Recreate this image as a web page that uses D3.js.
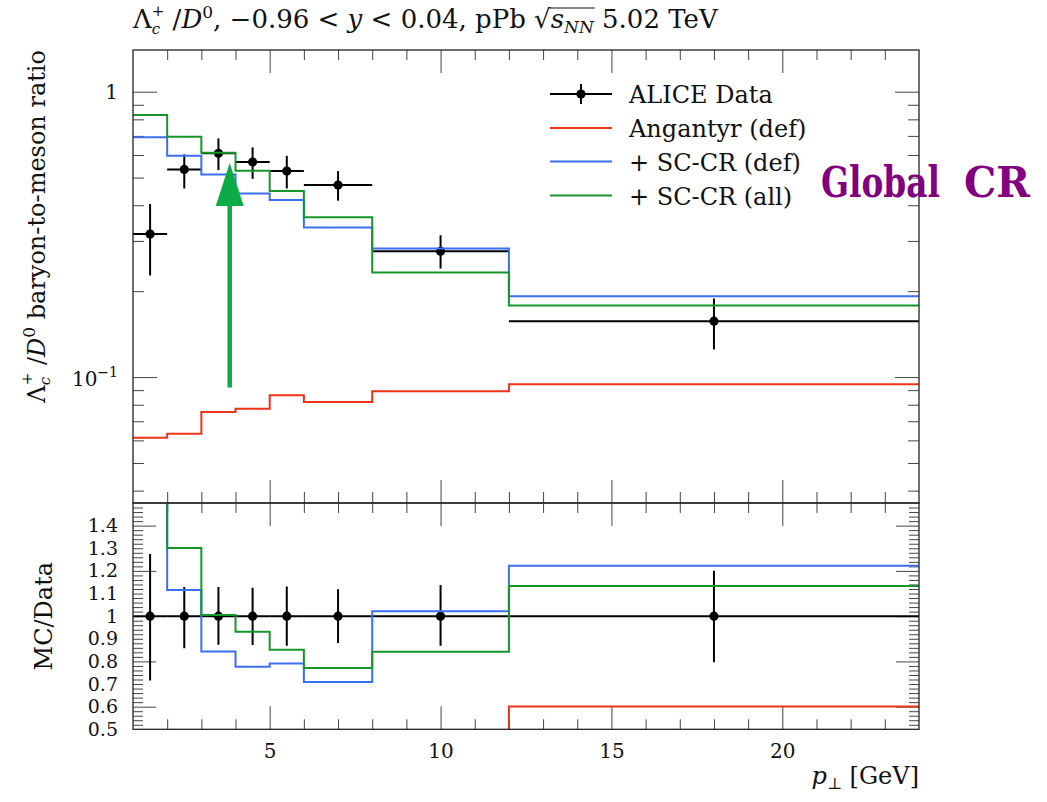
<!DOCTYPE html>
<html><head><meta charset="utf-8">
<script src="https://cdn.jsdelivr.net/npm/d3@7"></script>
<style>
body { margin: 0; background: #fff; }
text { font-family: "DejaVu Serif", serif; white-space: pre; fill: #111; }
.tick line { stroke: #444; stroke-width: 1; }
</style></head><body>
<script>
// bins in pT (GeV)
const binLo = [1, 2, 3, 4, 5, 6, 8, 12];
const binHi = [2, 3, 4, 5, 6, 8, 12, 24];
const ptCenter = [1.5, 2.5, 3.5, 4.5, 5.5, 7, 10, 18];

// ALICE data with error band edges
const aliceVal = [0.317, 0.534, 0.608, 0.567, 0.527, 0.471, 0.276, 0.157];
const aliceHi  = [0.404, 0.603, 0.686, 0.638, 0.596, 0.527, 0.314, 0.1885];
const aliceLo  = [0.227, 0.458, 0.531, 0.495, 0.458, 0.415, 0.240, 0.125];

// MC curves
const angantyr = [0.0613, 0.0633, 0.0754, 0.0775, 0.0863, 0.0817, 0.0891, 0.0943];
const scDef    = [0.692, 0.596, 0.513, 0.440, 0.417, 0.334, 0.282, 0.192];
const scAll    = [0.828, 0.695, 0.611, 0.528, 0.449, 0.363, 0.2325, 0.178];

const seriesNames = ["Angantyr (def)", "+ SC-CR (def)", "+ SC-CR (all)"];
const seriesVals = [angantyr, scDef, scAll];
const seriesCol = ["#ee3318", "#3c6ef0", "#16962a"];

const xMajor = [5, 10, 15, 20];
const ratioLabels = [0.5, 0.6, 0.7, 0.8, 0.9, 1.0, 1.1, 1.2, 1.3, 1.4];

const W = 1047, H = 802;
const L = 133, R = 919, T = 50, MID = 503, B = 729.3;

const svg = d3.select("body").append("svg").attr("width", W).attr("height", H);

const x = d3.scaleLinear().domain([1, 24]).range([L, R]);
const yTop = d3.scaleLog().domain([0.0362, 1.40]).range([MID, T]);
const yRat = d3.scaleLinear().domain([0.5, 1.5]).range([B, MID]);

// clip regions
const defs = svg.append("defs");
defs.append("clipPath").attr("id", "cTop").append("rect")
  .attr("x", L).attr("y", T).attr("width", R - L).attr("height", MID - T);
defs.append("clipPath").attr("id", "cRat").append("rect")
  .attr("x", L).attr("y", MID).attr("width", R - L).attr("height", B - MID);

// rich text helper: one <text>, pieces as tspans laid out one after another
function rich(parent, px, py, segs, size, anchor, rot) {
  const outer = parent.append("g")
    .attr("transform", `translate(${px},${py})` + (rot ? ` rotate(${rot})` : ""));
  const g = outer.append("g");
  const txt = g.append("text").attr("font-size", size);
  let cx = 0, prev = null;
  const marks = [];
  segs.forEach(s => {
    const x0 = s.stack && prev ? prev.x0 : cx;
    const t = txt.append("tspan")
      .attr("x", x0).attr("y", -(s.up || 0))
      .attr("font-size", s.size || size)
      .attr("font-style", s.it ? "italic" : null)
      .text(s.t);
    const w = t.node().getComputedTextLength();
    const m = { x0: x0, x1: x0 + w, s: s };
    marks.push(m);
    cx = Math.max(cx, x0 + w);
    prev = m;
  });
  const shift = anchor === "end" ? -cx : anchor === "middle" ? -cx / 2 : 0;
  g.attr("transform", `translate(${shift},0)`);
  return { g: g, marks: marks, width: cx };
}

// title
const title = rich(svg, L, 28, [
  { t: "Λ" }, { t: "c", it: 1, size: 15, up: -6 }, { t: "+", size: 15, up: 12.5, stack: 1 },
  { t: " /" }, { t: "D", it: 1 }, { t: "0", size: 17, up: 10 },
  { t: ", −0.96 < " }, { t: "y", it: 1 }, { t: " < 0.04, pPb " },
  { t: "√" }, { t: "s", it: 1, ol: 1 }, { t: "NN", it: 1, size: 17, up: -5, ol: 1 },
  { t: " 5.02 TeV" }
], 26, "start");
const ol = title.marks.filter(m => m.s.ol);
title.g.append("line")
  .attr("x1", ol[0].x0 - 1).attr("x2", ol[ol.length - 1].x1 + 1)
  .attr("y1", -20).attr("y2", -20)
  .attr("stroke", "#111").attr("stroke-width", 1.2);

// ---------- upper panel ----------
const topG = svg.append("g");

// ticks
const yMinor = [0.04, 0.05, 0.06, 0.07, 0.08, 0.09, 0.2, 0.3, 0.4, 0.5, 0.6, 0.7, 0.8, 0.9];
const yMajor = [0.1, 1];
const xMinor = d3.range(2, 24).filter(v => v % 5 !== 0);

function ticks(g, axis, tr) {
  const a = g.append("g").attr("transform", tr).call(axis);
  a.select(".domain").remove();
  return a;
}
ticks(topG, d3.axisLeft(yTop).tickValues(yMinor).tickSize(-11).tickFormat(""), `translate(${L},0)`);
ticks(topG, d3.axisLeft(yTop).tickValues(yMajor).tickSize(-24).tickFormat(""), `translate(${L},0)`);
ticks(topG, d3.axisRight(yTop).tickValues(yMinor).tickSize(-11).tickFormat(""), `translate(${R},0)`);
ticks(topG, d3.axisRight(yTop).tickValues(yMajor).tickSize(-24).tickFormat(""), `translate(${R},0)`);
ticks(topG, d3.axisTop(x).tickValues(xMinor).tickSize(-10).tickFormat(""), `translate(0,${T})`);
ticks(topG, d3.axisTop(x).tickValues(xMajor).tickSize(-23).tickFormat(""), `translate(0,${T})`);
ticks(topG, d3.axisBottom(x).tickValues(xMinor).tickSize(-11).tickFormat(""), `translate(0,${MID})`);
ticks(topG, d3.axisBottom(x).tickValues(xMajor).tickSize(-23).tickFormat(""), `translate(0,${MID})`);

// y labels upper
rich(svg, 118, yTop(1) + 7, [{ t: "1" }], 20, "end");
rich(svg, 118, yTop(0.1) + 9, [{ t: "10" }, { t: "−1", size: 14, up: 9 }], 20, "end");

const stepPts = vals => binLo.map((lo, i) => [lo, vals[i]])
  .concat([[binHi[binHi.length - 1], vals[vals.length - 1]]]);

const lineTop = d3.line().x(d => x(d[0])).y(d => yTop(d[1])).curve(d3.curveStepAfter);

const topPlot = topG.append("g").attr("clip-path", "url(#cTop)");

// data
const dataG = topPlot.append("g");
dataG.selectAll(".xb").data(aliceVal).enter().append("line")
  .attr("x1", (d, i) => x(binLo[i])).attr("x2", (d, i) => x(binHi[i]))
  .attr("y1", d => yTop(d)).attr("y2", d => yTop(d))
  .attr("stroke", "#000").attr("stroke-width", 2);
dataG.selectAll(".yb").data(aliceVal).enter().append("line")
  .attr("x1", (d, i) => x(ptCenter[i])).attr("x2", (d, i) => x(ptCenter[i]))
  .attr("y1", (d, i) => yTop(aliceHi[i])).attr("y2", (d, i) => yTop(aliceLo[i]))
  .attr("stroke", "#000").attr("stroke-width", 2);
dataG.selectAll("circle").data(aliceVal).enter().append("circle")
  .attr("cx", (d, i) => x(ptCenter[i])).attr("cy", d => yTop(d))
  .attr("r", 4.6).attr("fill", "#000");

seriesVals.forEach((vals, k) => {
  topPlot.append("path").datum(stepPts(vals))
    .attr("d", lineTop).attr("fill", "none")
    .attr("stroke", seriesCol[k]).attr("stroke-width", 2);
});

topG.append("rect").attr("x", L).attr("y", T).attr("width", R - L).attr("height", MID - T)
  .attr("fill", "none").attr("stroke", "#222").attr("stroke-width", 1.3);

// legend
const legY = [94, 128, 161.5, 195.5];
const leg = svg.append("g");
const lg0 = leg.append("g");
lg0.append("line").attr("x1", 550).attr("x2", 612).attr("y1", legY[0]).attr("y2", legY[0])
  .attr("stroke", "#000").attr("stroke-width", 2);
lg0.append("line").attr("x1", 581).attr("x2", 581).attr("y1", legY[0] - 10).attr("y2", legY[0] + 10)
  .attr("stroke", "#000").attr("stroke-width", 2);
lg0.append("circle").attr("cx", 581).attr("cy", legY[0]).attr("r", 4.6).attr("fill", "#000");
leg.append("text").attr("x", 629).attr("y", legY[0] + 9).attr("font-size", 24).text("ALICE Data");
seriesNames.forEach((n, k) => {
  leg.append("line").attr("x1", 550).attr("x2", 612)
    .attr("y1", legY[k + 1]).attr("y2", legY[k + 1])
    .attr("stroke", seriesCol[k]).attr("stroke-width", 2);
  leg.append("text").attr("x", 629).attr("y", legY[k + 1] + 9).attr("font-size", 24).text(n);
});

// arrow annotation
const arrowX = 3.83;
svg.append("line").attr("x1", x(arrowX)).attr("x2", x(arrowX))
  .attr("y1", yTop(0.092)).attr("y2", 200)
  .attr("stroke", "#0bab45").attr("stroke-width", 4.5);
svg.append("path")
  .attr("d", `M${x(arrowX)},163 L${x(arrowX) - 14},206 L${x(arrowX) + 14},206 Z`)
  .attr("fill", "#0bab45");

// Global CR (squeezed horizontally to the reference width)
function squeezed(str, x0, y0, width) {
  const t = svg.append("text").attr("font-size", 42).attr("font-weight", "bold")
    .style("fill", "#800080").text(str);
  const w = t.node().getComputedTextLength();
  t.attr("transform", `translate(${x0},${y0}) scale(${width / w},1)`);
}
squeezed("Global", 821, 197, 119);
squeezed("CR", 964, 197, 66);

// upper y label
rich(svg, 45, T, [
  { t: "Λ" }, { t: "c", it: 1, size: 15, up: -5 }, { t: "+", size: 15, up: 13, stack: 1 },
  { t: " /" }, { t: "D", it: 1 }, { t: "0", size: 17, up: 10 },
  { t: " baryon-to-meson ratio" }
], 24, "end", -90);

// ---------- ratio panel ----------
const rat = svg.append("g");
const rMinor = d3.range(0.52, 1.5, 0.02).map(v => +v.toFixed(2)).filter(v => Math.round(v * 100) % 20 !== 0);
const rMajor = [0.6, 0.8, 1.0, 1.2, 1.4];
ticks(rat, d3.axisLeft(yRat).tickValues(rMinor).tickSize(-10).tickFormat(""), `translate(${L},0)`);
ticks(rat, d3.axisLeft(yRat).tickValues(rMajor).tickSize(-23).tickFormat(""), `translate(${L},0)`);
ticks(rat, d3.axisRight(yRat).tickValues(rMinor).tickSize(-10).tickFormat(""), `translate(${R},0)`);
ticks(rat, d3.axisRight(yRat).tickValues(rMajor).tickSize(-23).tickFormat(""), `translate(${R},0)`);
ticks(rat, d3.axisTop(x).tickValues(xMinor).tickSize(-10).tickFormat(""), `translate(0,${MID})`);
ticks(rat, d3.axisTop(x).tickValues(xMajor).tickSize(-23).tickFormat(""), `translate(0,${MID})`);
ticks(rat, d3.axisBottom(x).tickValues(xMinor).tickSize(-10).tickFormat(""), `translate(0,${B})`);
const xAx = ticks(rat, d3.axisBottom(x).tickValues(xMajor).tickSize(-23).tickPadding(15).tickFormat(d3.format("d")), `translate(0,${B})`);
xAx.selectAll("text").attr("font-size", 20).style("font-family", "DejaVu Serif");

const yLab = rat.append("g").attr("transform", `translate(${L},0)`)
  .call(d3.axisLeft(yRat).tickValues(ratioLabels).tickSize(0).tickPadding(15)
    .tickFormat(d => d === 1 ? "1" : d3.format(".1f")(d)));
yLab.select(".domain").remove();
yLab.selectAll("text").attr("font-size", 19).style("font-family", "DejaVu Serif");

const ratPlot = rat.append("g").attr("clip-path", "url(#cRat)");
const lineRat = d3.line().x(d => x(d[0])).y(d => yRat(d[1])).curve(d3.curveStepAfter);

const rd = ratPlot.append("g");
rd.selectAll(".xb").data(aliceVal).enter().append("line")
  .attr("x1", (d, i) => x(binLo[i])).attr("x2", (d, i) => x(binHi[i]))
  .attr("y1", yRat(1)).attr("y2", yRat(1))
  .attr("stroke", "#000").attr("stroke-width", 2);
rd.selectAll(".yb").data(aliceVal).enter().append("line")
  .attr("x1", (d, i) => x(ptCenter[i])).attr("x2", (d, i) => x(ptCenter[i]))
  .attr("y1", (d, i) => yRat(aliceHi[i] / d)).attr("y2", (d, i) => yRat(aliceLo[i] / d))
  .attr("stroke", "#000").attr("stroke-width", 2);
rd.selectAll("circle").data(aliceVal).enter().append("circle")
  .attr("cx", (d, i) => x(ptCenter[i])).attr("cy", yRat(1))
  .attr("r", 4.6).attr("fill", "#000");

seriesVals.forEach((vals, k) => {
  ratPlot.append("path").datum(stepPts(vals.map((v, i) => v / aliceVal[i])))
    .attr("d", lineRat).attr("fill", "none")
    .attr("stroke", seriesCol[k]).attr("stroke-width", 2);
});

rat.append("rect").attr("x", L).attr("y", MID).attr("width", R - L).attr("height", B - MID)
  .attr("fill", "none").attr("stroke", "#222").attr("stroke-width", 1.3);

rich(svg, 52, yRat(1), [{ t: "MC/Data" }], 24, "middle", -90);

// x label
rich(svg, R, 784, [{ t: "p", it: 1 }, { t: "⊥", size: 16, up: -5 }, { t: " [GeV]" }], 24, "end");
</script>
</body></html>
